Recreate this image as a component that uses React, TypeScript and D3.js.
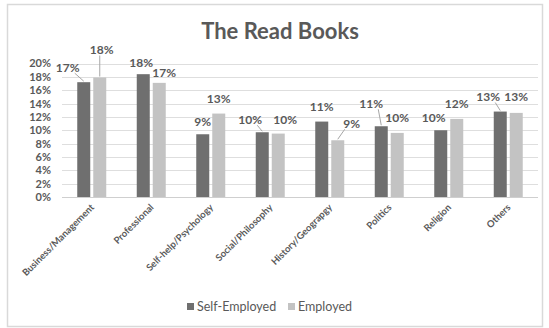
import React from "react";
import * as d3 from "d3";

const categories = [
  "Business/Management",
  "Professional",
  "Self-help/Psychology",
  "Social/Philosophy",
  "History/Geograpgy",
  "Politics",
  "Religion",
  "Others",
];
const seriesNames = ["Self-Employed", "Employed"];
const selfEmployed = [17.2, 18.4, 9.4, 9.7, 11.3, 10.6, 10.0, 12.8];
const employed = [17.9, 17.1, 12.5, 9.5, 8.5, 9.6, 11.7, 12.6];
const yTicks = [0, 2, 4, 6, 8, 10, 12, 14, 16, 18, 20];

// label layout nudges (Excel-like placement), [dx, dy] per series per category
const labelNudge = [
  [[-16, 0], [-2, 3], [0, 2], [-12, 2], [0, 0], [-10, -8], [-7, 2], [-12, 0]],
  [[2, -13], [5, 5], [0, 0], [7, 1], [14, -2], [0, 0], [0, 0], [0, -1]],
];

const W = 549;
const H = 328;
const FONT = "Lato, 'Open Sans', 'Liberation Sans', sans-serif";
const TXT = "#595959";
const COLORS = ["#6f6f6f", "#c3c3c3"];

export default function App() {
  const x0 = d3.scaleBand<string>().domain(categories).range([62, 538]).paddingInner(0).paddingOuter(0);
  const y = d3.scaleLinear().domain([0, 20]).range([197, 63.5]);
  const barW = 13;
  const gap = 3;
  const series = [selfEmployed, employed];

  return (
    <svg
      width={W}
      height={H}
      style={{ position: "fixed", left: 0, top: 0, display: "block", background: "#fff" }}
      fontFamily={FONT}
    >
      <rect x={0} y={0} width={W} height={H} fill="#fff" />
      <rect x={7.5} y={4.5} width={535} height={322} fill="none" stroke="#d9d9d9" strokeWidth={1.5} />
      <text x={280} y={39} textAnchor="middle" fontSize={22} fontWeight={700} fill={TXT}>
        The Read Books
      </text>

      {yTicks.map((t) => (
        <g key={t}>
          <line x1={62} x2={538} y1={Math.round(y(t)) + 0.5} y2={Math.round(y(t)) + 0.5} stroke={t === 0 ? "#cfcfcf" : "#dedede"} strokeWidth={1} />
          <text x={51} y={y(t)} dy="0.36em" textAnchor="end" fontSize={11} fontWeight={700} fill={TXT}>
            {t}%
          </text>
        </g>
      ))}

      {categories.map((c, i) => {
        const cx = (x0(c) ?? 0) + x0.bandwidth() / 2;
        return (
          <g key={c}>
            {series.map((vals, s) => {
              const bx = s === 0 ? cx - gap / 2 - barW : cx + gap / 2;
              const top = y(vals[i]);
              return (
                <rect key={s} x={bx} y={top} width={barW} height={y(0) - top} fill={COLORS[s]} />
              );
            })}
          </g>
        );
      })}

      {categories.map((c, i) => {
        const cx = (x0(c) ?? 0) + x0.bandwidth() / 2;
        return (
          <g key={c + "-lbl"}>
            {series.map((vals, s) => {
              const bc = s === 0 ? cx - gap / 2 - barW / 2 : cx + gap / 2 + barW / 2;
              const top = y(vals[i]);
              const [dx, dy] = labelNudge[s][i];
              const lx = bc + dx;
              const ly = top - 15 + dy;
              const leader = Math.hypot(dx, dy) > 9;
              const sx = lx + Math.max(-7, Math.min(7, bc - lx));
              return (
                <g key={s}>
                  {leader && (
                    <line x1={sx} y1={ly + 6} x2={bc} y2={top - 1} stroke="#a6a6a6" strokeWidth={1} />
                  )}
                  <text x={lx} y={ly} dy="0.36em" textAnchor="middle" fontSize={12} fontWeight={700} fill={TXT}>
                    {Math.round(vals[i])}%
                  </text>
                </g>
              );
            })}
          </g>
        );
      })}

      {categories.map((c) => {
        const cx = (x0(c) ?? 0) + x0.bandwidth() / 2;
        return (
          <text
            key={c + "-x"}
            transform={`translate(${cx + 3},${208}) rotate(-45)`}
            textAnchor="end"
            fontSize={9.5}
            fontWeight={700}
            fill={TXT}
          >
            {c}
          </text>
        );
      })}

      {seriesNames.map((n, s) => {
        const lx = s === 0 ? 187 : 288;
        return (
          <g key={n}>
            <rect x={lx} y={303} width={7} height={7} fill={COLORS[s]} />
            <text x={lx + 10} y={306.5} dy="0.36em" fontSize={12.5} fill={TXT}>
              {n}
            </text>
          </g>
        );
      })}
    </svg>
  );
}
